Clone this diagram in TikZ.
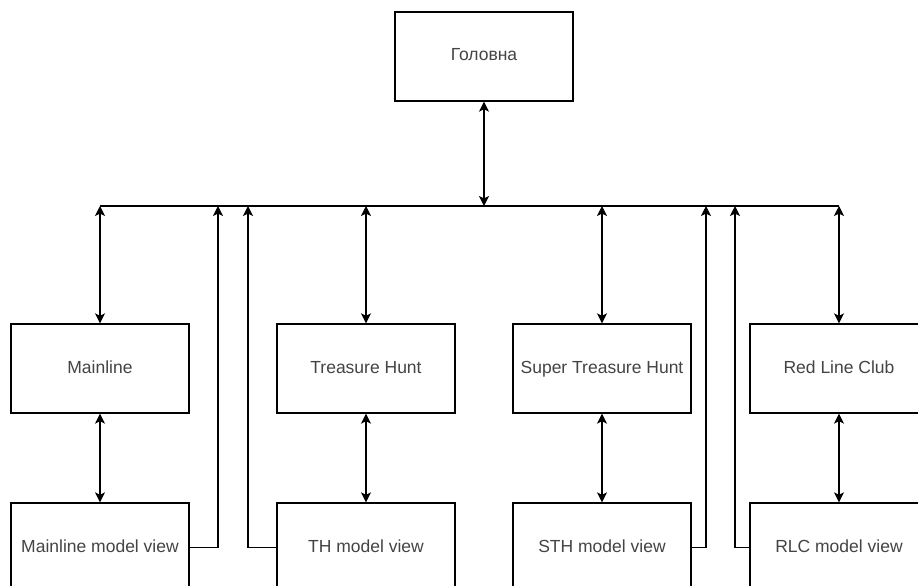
\documentclass[tikz,border=0pt]{standalone}
\usepackage{fontspec}
\setmainfont{Liberation Sans}
\usetikzlibrary{arrows.meta}
\definecolor{txt}{HTML}{444444}
\begin{document}
\begin{tikzpicture}[x=1pt,y=-1pt,
  box/.style={draw=black,line width=1.3pt,minimum width=178pt,minimum height=89pt,inner sep=0pt,
    text height=12.5pt,text depth=3.5pt,
    font=\fontsize{17.5}{20}\selectfont,text=txt},
  conn/.style={line width=1.3pt,draw=black},
  tip/.style={-{Stealth[length=10pt,width=10pt,inset=2.5pt]}},
  both/.style={{Stealth[length=10pt,width=10pt,inset=2.5pt]}-{Stealth[length=10pt,width=10pt,inset=2.5pt]}}]
\useasboundingbox (0,0) rectangle (918,586);
\clip (0,0) rectangle (918,586);
\fill[white] (0,0) rectangle (918,586);
\node[box] (head) at (484,56.5) {Головна};
\node[box] (ml) at (100,368.5) {Mainline};
\node[box] (th) at (366,368.5) {Treasure Hunt};
\node[box] (sth) at (602,368.5) {Super Treasure Hunt};
\node[box] (rlc) at (839,368.5) {Red Line Club};
\node[box] (mlv) at (100,547.5) {Mainline model view};
\node[box] (thv) at (366,547.5) {TH model view};
\node[box] (sthv) at (602,547.5) {STH model view};
\node[box] (rlcv) at (839,547.5) {RLC model view};
\coordinate (busL) at (100,206);
\coordinate (busR) at (839,206);
\coordinate (c1) at (218,206);
\coordinate (c2) at (248,206);
\coordinate (c3) at (706,206);
\coordinate (c4) at (735,206);
\draw[conn] (busL) -- (busR);
\draw[conn,both] (head.south) -- (head.south |- busL);
\draw[conn,both] (ml.north |- busL) -- (ml.north);
\draw[conn,both] (th.north |- busL) -- (th.north);
\draw[conn,both] (sth.north |- busL) -- (sth.north);
\draw[conn,both] (rlc.north |- busL) -- (rlc.north);
\draw[conn,both] (ml.south) -- (mlv.north);
\draw[conn,both] (th.south) -- (thv.north);
\draw[conn,both] (sth.south) -- (sthv.north);
\draw[conn,both] (rlc.south) -- (rlcv.north);
\draw[conn,tip] (mlv.east) -| (c1);
\draw[conn,tip] (thv.west) -| (c2);
\draw[conn,tip] (sthv.east) -| (c3);
\draw[conn,tip] (rlcv.west) -| (c4);
\end{tikzpicture}
\end{document}
